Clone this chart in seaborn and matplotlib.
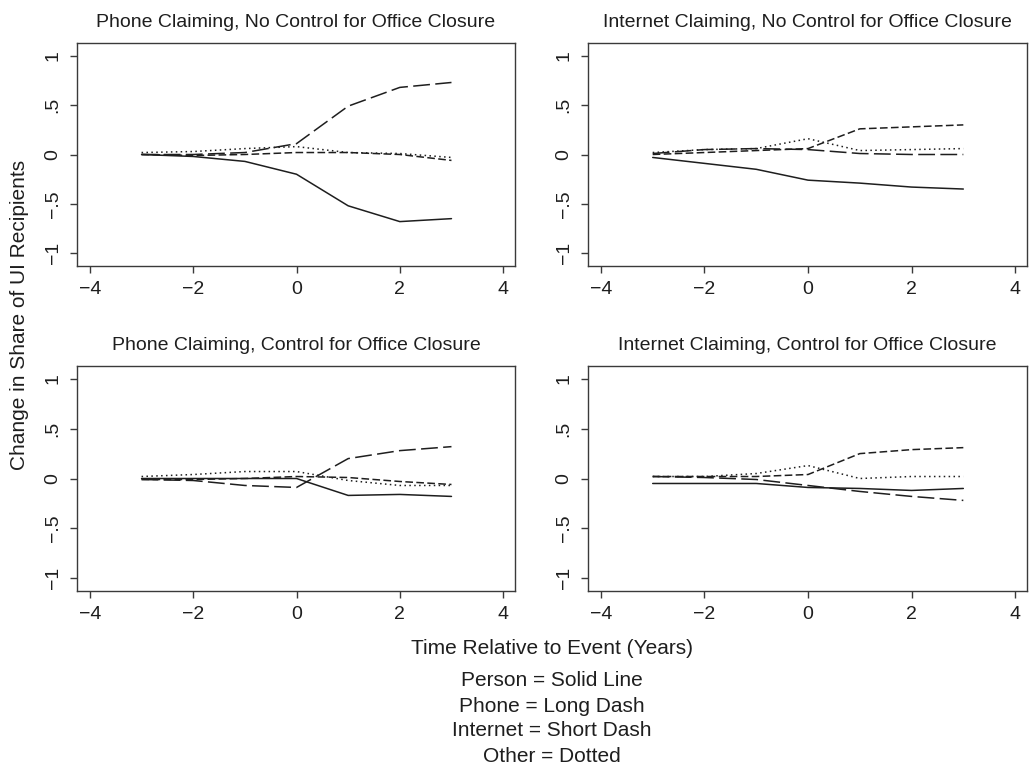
import numpy as np
import pandas as pd
import matplotlib
matplotlib.use("Agg")
import matplotlib.pyplot as plt
import seaborn as sns
from matplotlib.ticker import FixedLocator, FixedFormatter

# ---------------- data ----------------
t_years = [-3, -2, -1, 0, 1, 2, 3]
modes = ["Person", "Phone", "Internet", "Other"]

panel_titles = [
    "Phone Claiming, No Control for Office Closure",
    "Internet Claiming, No Control for Office Closure",
    "Phone Claiming, Control for Office Closure",
    "Internet Claiming, Control for Office Closure",
]

# Panel 1: Phone claiming, no control
p1_person = [0.00, -0.02, -0.07, -0.20, -0.52, -0.68, -0.65]
p1_phone = [0.00, 0.00, 0.02, 0.11, 0.49, 0.68, 0.73]
p1_internet = [0.00, -0.01, 0.00, 0.02, 0.02, 0.00, -0.06]
p1_other = [0.02, 0.03, 0.06, 0.08, 0.02, 0.01, -0.03]

# Panel 2: Internet claiming, no control
p2_person = [-0.03, -0.09, -0.15, -0.26, -0.29, -0.33, -0.35]
p2_phone = [0.01, 0.05, 0.06, 0.05, 0.01, 0.00, 0.00]
p2_internet = [0.00, 0.02, 0.04, 0.06, 0.26, 0.28, 0.30]
p2_other = [0.02, 0.05, 0.06, 0.16, 0.04, 0.05, 0.06]

# Panel 3: Phone claiming, control
p3_person = [0.00, 0.00, 0.00, 0.00, -0.17, -0.16, -0.18]
p3_phone = [-0.01, -0.02, -0.07, -0.09, 0.20, 0.28, 0.32]
p3_internet = [-0.01, -0.01, 0.00, 0.02, 0.01, -0.03, -0.06]
p3_other = [0.02, 0.04, 0.07, 0.07, -0.02, -0.07, -0.07]

# Panel 4: Internet claiming, control
p4_person = [-0.05, -0.05, -0.05, -0.09, -0.10, -0.12, -0.10]
p4_phone = [0.02, 0.01, -0.01, -0.07, -0.13, -0.18, -0.22]
p4_internet = [0.02, 0.02, 0.02, 0.04, 0.25, 0.29, 0.31]
p4_other = [0.02, 0.02, 0.05, 0.13, 0.00, 0.02, 0.02]

panels = [
    [p1_person, p1_phone, p1_internet, p1_other],
    [p2_person, p2_phone, p2_internet, p2_other],
    [p3_person, p3_phone, p3_internet, p3_other],
    [p4_person, p4_phone, p4_internet, p4_other],
]

x_ticks = [-4, -2, 0, 2, 4]
x_ticklabels = ["\u22124", "\u22122", "0", "2", "4"]
y_ticks = [-1, -0.5, 0, 0.5, 1]
y_ticklabels = ["\u22121", "\u2212.5", "0", ".5", "1"]

legend_lines = [
    "Person = Solid Line",
    "Phone = Long Dash",
    "Internet = Short Dash",
    "Other = Dotted",
]

# ---------------- style ----------------
sns.set_style("ticks")
plt.rcParams["font.family"] = ["Liberation Sans", "DejaVu Sans"]
FS_TITLE = 14
FS_TICK = 14
FS_LAB = 15
INK = "#1e1e1e"
FRAME = "#3a3a3a"

dash_map = {
    "Person": "",
    "Phone": (11, 3.5),
    "Internet": (5, 2.2),
    "Other": (1, 2.2),
}

fig = plt.figure(figsize=(10.35, 7.67), dpi=100)

W, H = 1035, 767
boxes = [
    (77, 43, 515, 266),
    (588, 43, 1027, 266),
    (77, 366, 515, 591),
    (588, 366, 1027, 591),
]

for i, (x0, y0, x1, y1) in enumerate(boxes):
    ax = fig.add_axes([x0 / W, 1 - y1 / H, (x1 - x0) / W, (y1 - y0) / H])
    rows = []
    for m, vals in zip(modes, panels[i]):
        for tt, v in zip(t_years, vals):
            rows.append({"t": tt, "value": v, "mode": m})
    df = pd.DataFrame(rows)
    sns.lineplot(data=df, x="t", y="value", style="mode", style_order=modes,
                 dashes=dash_map, color=INK, linewidth=1.1, legend=False,
                 ax=ax, errorbar=None)
    ax.set_xlim(-4.25, 4.23)
    ax.set_ylim(-1.13, 1.13)
    ax.xaxis.set_major_locator(FixedLocator(x_ticks))
    ax.xaxis.set_major_formatter(FixedFormatter(x_ticklabels))
    ax.yaxis.set_major_locator(FixedLocator(y_ticks))
    ax.yaxis.set_major_formatter(FixedFormatter(y_ticklabels))
    ax.set_xlabel("")
    ax.set_ylabel("")
    ax.tick_params(axis="both", direction="out", length=5, width=1.0,
                   color=FRAME, labelsize=FS_TICK, labelcolor=INK)
    ax.tick_params(axis="x", pad=6)
    ax.tick_params(axis="y", labelrotation=90, pad=6)
    for lbl in ax.get_yticklabels():
        lbl.set_va("center")
    for sp in ax.spines.values():
        sp.set_visible(True)
        sp.set_color(FRAME)
        sp.set_linewidth(1.0)
    ax.set_title(panel_titles[i], fontsize=FS_TITLE, color=INK, pad=11.5)

fig.text(20 / W, 1 - 315 / H, "Change in Share of UI Recipients", rotation=90,
         ha="center", va="center", fontsize=FS_LAB, color=INK)
fig.text(552 / W, 1 - 648 / H, "Time Relative to Event (Years)",
         ha="center", va="center", fontsize=FS_LAB, color=INK)
for k, line in enumerate(legend_lines):
    fig.text(552 / W, 1 - (681 + 25 * k) / H, line,
             ha="center", va="center", fontsize=FS_LAB, color=INK)

fig.savefig("out.png", dpi=100)
